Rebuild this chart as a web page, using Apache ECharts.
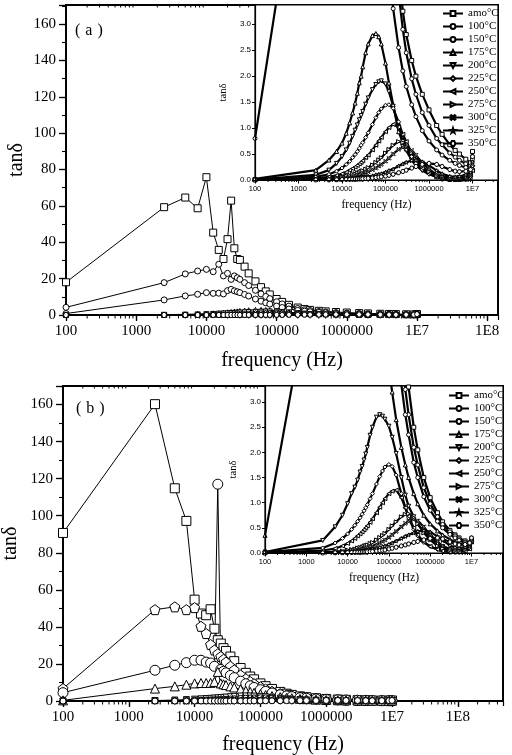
<!DOCTYPE html>
<html><head><meta charset="utf-8">
<script src="https://cdn.jsdelivr.net/npm/echarts@6/dist/echarts.min.js"></script>
<style>html,body{margin:0;padding:0;background:#fff}#c{width:512px;height:755px}</style>
</head><body><div id="c"></div>
<script>
const seriesNames = ['amo°C','100°C','150°C','175°C','200°C','225°C','250°C','275°C','300°C','325°C','350°C'];
const freq = [100,2500,5000,7500,10000,12500,15000,17500,20000,22500,25000,27500,30000,35000,40000,50000,60000,70000,80000,100000,120000,150000,200000,250000,300000,400000,500000,700000,1000000,1500000,2000000,3000000,4000000,5000000,7000000,9000000,10000000];
const xTickLabels = ['100','1000','10000','100000','1000000','1E7','1E8'];
const minorMultipliers = [2,3,4,5,6,7,8,9];

// panel (a)
const amoA = [18,59.3,64.6,58.7,75.8,45.3,35.8,30.8,41.7,62.9,36.7,30.8,30.3,26.6,22.9,18.5,15.3,13.0,11.3,8.8,7.2,5.6,4.1,3.25,2.8,2.3,2.0,1.65,1.35,1.05,0.88,0.68,0.57,0.5,0.4,0.33,0.55];
const t100A = [4.2,17.8,22.6,24.2,25.1,23.8,27.9,21.5,22.9,19.6,21.5,20.5,19.6,17.8,16.2,13.6,11.6,10.2,9.0,7.3,6.1,4.9,3.6,2.9,2.45,1.95,1.65,1.3,1.05,0.8,0.68,0.52,0.44,0.38,0.31,0.27,0.45];
const t150A = [0.8,8.3,10.5,11.4,12.3,11.9,12.0,11.6,13.4,14.1,13.3,12.8,12.3,11.3,10.4,8.8,7.6,6.7,6.0,4.9,4.1,3.3,2.55,2.1,1.8,1.45,1.22,0.95,0.75,0.58,0.48,0.38,0.32,0.28,0.24,0.22,0.4];
const t175A = [0.02,0.19,0.385,0.55,0.71,0.9,1.1,1.29,1.48,1.67,1.87,2.0,2.18,2.45,2.62,2.78,2.82,2.76,2.62,2.25,1.87,1.45,0.93,0.72,0.6,0.46,0.37,0.25,0.15,0.06,0.03,0.01,0.01,0.01,0.02,0.05,0.3];
const t200A = [0.01,0.1,0.19,0.32,0.45,0.58,0.71,0.84,0.96,1.06,1.16,1.24,1.32,1.46,1.58,1.74,1.84,1.89,1.91,1.85,1.7,1.42,1.0,0.74,0.57,0.38,0.28,0.18,0.11,0.06,0.03,0.01,0.01,0.02,0.03,0.06,0.25];
const t225A = [0.01,0.06,0.11,0.17,0.23,0.3,0.36,0.43,0.49,0.55,0.61,0.67,0.72,0.82,0.91,1.07,1.2,1.3,1.37,1.44,1.45,1.38,1.12,0.87,0.68,0.45,0.32,0.2,0.12,0.06,0.04,0.02,0.02,0.02,0.04,0.07,0.2];
const t250A = [0,0.03,0.06,0.09,0.12,0.15,0.19,0.22,0.25,0.28,0.31,0.34,0.37,0.43,0.48,0.58,0.67,0.75,0.82,0.93,1.01,1.07,1.02,0.88,0.74,0.52,0.38,0.23,0.14,0.07,0.04,0.02,0.02,0.03,0.05,0.09,0.18];
const t275A = [0,0.02,0.03,0.05,0.06,0.08,0.09,0.11,0.12,0.14,0.15,0.17,0.18,0.21,0.24,0.29,0.34,0.39,0.43,0.52,0.59,0.67,0.74,0.72,0.66,0.52,0.4,0.26,0.16,0.08,0.05,0.03,0.03,0.04,0.06,0.1,0.22];
const t300A = [0,0.01,0.02,0.03,0.04,0.05,0.06,0.07,0.08,0.09,0.1,0.11,0.12,0.14,0.16,0.2,0.23,0.27,0.3,0.36,0.42,0.5,0.59,0.63,0.64,0.57,0.48,0.33,0.21,0.11,0.07,0.04,0.04,0.05,0.08,0.12,0.3];
const t325A = [0,0.005,0.01,0.015,0.02,0.025,0.03,0.035,0.04,0.045,0.05,0.055,0.06,0.065,0.07,0.08,0.1,0.11,0.12,0.15,0.18,0.21,0.27,0.31,0.34,0.375,0.385,0.35,0.28,0.18,0.12,0.07,0.06,0.07,0.1,0.15,0.35];
const t350A = [0,0.002,0.004,0.006,0.008,0.01,0.012,0.014,0.016,0.018,0.02,0.022,0.024,0.028,0.032,0.04,0.048,0.055,0.062,0.075,0.09,0.11,0.14,0.165,0.19,0.23,0.26,0.3,0.32,0.3,0.26,0.2,0.17,0.16,0.17,0.2,0.45];

// panel (b)
const amoB = [90.7,160.2,114.8,97.2,54.7,47.2,46.3,49.5,39,32.8,31,28.5,27,24,21.5,17.8,15.2,13.2,11.7,9.5,8.0,6.5,4.9,3.95,3.3,2.5,2.05,1.5,1.1,0.8,0.62,0.45,0.36,0.3,0.24,0.2,0.28];
const t100B = [6.7,49.3,50.8,49.3,50.4,40.3,36.4,30.5,27.5,25.5,24,22.5,21,18.7,16.8,14,12,10.5,9.3,7.6,6.4,5.2,4.0,3.25,2.75,2.1,1.75,1.3,0.98,0.72,0.57,0.42,0.34,0.28,0.22,0.19,0.25];
const t150B = [4.5,16.6,19.3,20.7,22,22,21,20.5,18.7,117,17,16,15.2,13.8,12.6,10.7,9.3,8.2,7.3,6.1,5.2,4.3,3.35,2.75,2.35,1.8,1.5,1.12,0.85,0.63,0.5,0.37,0.3,0.25,0.2,0.17,0.22];
const t175B = [0.35,6.7,7.9,8.8,9.5,9.7,9.7,9.8,10.3,15.7,9.5,9.0,8.6,7.9,7.3,6.3,5.5,4.9,4.4,3.7,3.2,2.65,2.1,1.75,1.5,1.18,0.98,0.75,0.58,0.44,0.36,0.27,0.22,0.19,0.16,0.14,0.3];
const t200B = [0.02,0.25,0.52,0.75,0.98,1.18,1.31,1.45,1.61,1.72,1.85,1.97,2.1,2.34,2.5,2.7,2.75,2.72,2.66,2.52,2.3,1.98,1.5,1.15,0.93,0.72,0.58,0.43,0.32,0.18,0.12,0.06,0.04,0.03,0.05,0.1,0.25];
const t225B = [0.02,0.1,0.2,0.29,0.38,0.47,0.55,0.63,0.7,0.77,0.84,0.9,0.96,1.08,1.18,1.37,1.52,1.63,1.71,1.76,1.72,1.55,1.18,0.9,0.7,0.47,0.34,0.21,0.13,0.07,0.04,0.02,0.02,0.02,0.04,0.08,0.22];
const t250B = [0.01,0.05,0.09,0.14,0.19,0.24,0.29,0.34,0.38,0.42,0.46,0.5,0.54,0.61,0.68,0.8,0.91,1.0,1.08,1.18,1.23,1.25,1.1,0.9,0.73,0.5,0.36,0.22,0.13,0.07,0.04,0.02,0.02,0.02,0.04,0.08,0.22];
const t275B = [0,0.02,0.03,0.04,0.06,0.07,0.08,0.1,0.11,0.12,0.14,0.15,0.16,0.19,0.21,0.26,0.31,0.35,0.39,0.47,0.54,0.62,0.72,0.77,0.78,0.7,0.58,0.4,0.26,0.14,0.09,0.05,0.04,0.04,0.06,0.1,0.2];
const t300B = [0,0.01,0.02,0.03,0.04,0.05,0.06,0.06,0.07,0.08,0.09,0.1,0.11,0.12,0.14,0.17,0.2,0.23,0.26,0.31,0.36,0.43,0.52,0.59,0.63,0.67,0.64,0.52,0.37,0.22,0.14,0.08,0.06,0.06,0.08,0.12,0.25];
const t325B = [0,0.005,0.01,0.015,0.02,0.025,0.03,0.035,0.04,0.045,0.05,0.055,0.06,0.07,0.08,0.095,0.11,0.125,0.14,0.17,0.2,0.24,0.29,0.33,0.36,0.4,0.43,0.45,0.42,0.33,0.25,0.15,0.11,0.1,0.12,0.17,0.3];
const t350B = [0,0.002,0.004,0.006,0.008,0.01,0.012,0.014,0.016,0.018,0.02,0.022,0.024,0.028,0.032,0.04,0.047,0.054,0.06,0.08,0.095,0.115,0.14,0.16,0.18,0.21,0.23,0.26,0.29,0.3,0.28,0.22,0.18,0.16,0.17,0.2,0.3];

const panelAValues = [amoA,t100A,t150A,t175A,t200A,t225A,t250A,t275A,t300A,t325A,t350A];
const panelBValues = [amoB,t100B,t150B,t175B,t200B,t225B,t250B,t275B,t300B,t325B,t350B];

const DOWN = 'path://M0,0L10,0L5,9Z';
const LEFT = 'path://M10,0L10,10L1,5Z';
const RIGHT = 'path://M0,0L0,10L9,5Z';
const XS = 'path://M0,1.5L1.5,0L5,3.5L8.5,0L10,1.5L6.5,5L10,8.5L8.5,10L5,6.5L1.5,10L0,8.5L3.5,5Z';
const STAR = 'path://M5,0L6.2,3.6L10,3.6L7,5.9L8.1,9.5L5,7.3L1.9,9.5L3,5.9L0,3.6L3.8,3.6Z';
const HEX = 'path://M2.5,0L7.5,0L10,5L7.5,10L2.5,10L0,5Z';
const PENT = 'path://M5,0L10,3.8L8.1,10L1.9,10L0,3.8Z';
const symbolsA = ['rect','circle','circle','triangle',DOWN,'diamond',LEFT,RIGHT,XS,STAR,HEX];
const symbolsB = ['rect',PENT,'circle','triangle',DOWN,'circle',LEFT,RIGHT,'circle',STAR,'circle'];
const mainSizeA = [7,6,6,5,5,5,5,5,5,5,5];
const mainSizeB = [9,10,10,9,6,6,6,6,6,6,6];

const SERIF = "'Liberation Serif','Times New Roman',serif";
const SANS = "'Liberation Sans',Arial,sans-serif";

function isInt(v){return Math.abs(v-Math.round(v))<1e-6;}
function xLabel(v){return isInt(v) ? (xTickLabels[Math.round(v)-2]||'') : '';}

function minorTickPositions(max){
  const out=[];
  for(let d=2; d<=8; d++){ for(const m of minorMultipliers){ const v=Math.log10(m*Math.pow(10,d)); if(v<max-0.005) out.push([v,0]); } }
  return out;
}
function tickRender(len, top){
  return function(params, api){
    const cs = params.coordSys;
    const x = api.coord([api.value(0), 0])[0];
    const yb = cs.y + cs.height;
    const ch = [{type:'line', shape:{x1:x,y1:yb,x2:x,y2:yb+len}, style:{stroke:'#000', lineWidth:1}}];
    if(top) ch.push({type:'line', shape:{x1:x,y1:cs.y,x2:x,y2:cs.y+len-1}, style:{stroke:'#000', lineWidth:1}});
    return {type:'group', children: ch};
  };
}

const P = {
  A: {gm:0, gi:1, xm:0, xi:2, ym:0, yi:2, xmaxM:8.154, xmaxI:7.586, ymaxM:170.5, ymaxI:3.37, vals:panelAValues, sym:symbolsA, size:mainSizeA},
  B: {gm:2, gi:3, xm:3, xi:5, ym:3, yi:5, xmaxM:8.687, xmaxI:7.763, ymaxM:170, ymaxI:3.32, vals:panelBValues, sym:symbolsB, size:mainSizeB}
};

const grids = [
  {left:66, top:5, width:432, height:310, show:true, borderColor:'#000', borderWidth:2, backgroundColor:'transparent', z:0, containLabel:false, outerBoundsMode:'none'},
  {left:255, top:5, width:243, height:175, show:true, borderColor:'#000', borderWidth:1.2, backgroundColor:'#fff', z:3, containLabel:false, outerBoundsMode:'none'},
  {left:63, top:386, width:440, height:315, show:true, borderColor:'#000', borderWidth:2, backgroundColor:'transparent', z:0, containLabel:false, outerBoundsMode:'none'},
  {left:265, top:386, width:238, height:167, show:true, borderColor:'#000', borderWidth:1.2, backgroundColor:'#fff', z:3, containLabel:false, outerBoundsMode:'none'}
];

function mainX(g, max, gap){
  return {type:'value', gridIndex:g, min:2, max:max, interval:1, position:'bottom',
    axisLine:{show:true, lineStyle:{color:'#000', width:2}},
    axisTick:{show:true, inside:false, length:6, lineStyle:{color:'#000', width:1.3}},
    axisLabel:{formatter:xLabel, fontFamily:SERIF, fontSize:15, color:'#000', margin:9, showMaxLabel:false},
    splitLine:{show:false},
    name:'frequency (Hz)', nameLocation:'middle', nameGap:gap, nameTextStyle:{fontFamily:SERIF, fontSize:20, color:'#000'}};
}
function topX(g, max){
  return {type:'value', gridIndex:g, min:2, max:max, interval:1, position:'top',
    axisLine:{show:false}, axisTick:{show:true, inside:true, length:5, lineStyle:{color:'#000', width:1.2}},
    axisLabel:{show:false}, splitLine:{show:false}};
}
function insetX(g, max){
  return {type:'value', gridIndex:g, min:2, max:max, interval:1, position:'bottom', z:5,
    axisLine:{show:true, lineStyle:{color:'#000', width:1.2}},
    axisTick:{show:true, inside:false, length:3.5, lineStyle:{color:'#000', width:1}},
    axisLabel:{formatter:xLabel, fontFamily:SANS, fontSize:7.5, color:'#000', margin:5, showMaxLabel:false},
    splitLine:{show:false},
    name:'frequency (Hz)', nameLocation:'middle', nameGap:19, nameTextStyle:{fontFamily:SERIF, fontSize:11.5, color:'#000'}};
}
function mainY(g, max, gap){
  return {type:'value', gridIndex:g, min:0, max:max, interval:20,
    axisLine:{show:true, lineStyle:{color:'#000', width:2}},
    axisTick:{show:true, inside:false, length:7, lineStyle:{color:'#000', width:1.3}},
    axisLabel:{formatter:v=>isInt(v/20)?String(Math.round(v)):'', fontFamily:SERIF, fontSize:15, color:'#000', margin:10},
    splitLine:{show:false}, nameMoveOverlap:false,
    name:'tanδ', nameLocation:'middle', nameGap:gap, nameTextStyle:{fontFamily:SERIF, fontSize:20, color:'#000'}};
}
function minorY(g, max){
  return {type:'value', gridIndex:g, min:0, max:max, interval:10, position:'left',
    axisLine:{show:false}, axisTick:{show:true, inside:false, length:4, lineStyle:{color:'#000', width:1.1}},
    axisLabel:{show:false}, splitLine:{show:false}};
}
function insetY(g, max){
  return {type:'value', gridIndex:g, min:0, max:max, interval:0.5, z:5,
    axisLine:{show:true, lineStyle:{color:'#000', width:1.2}},
    axisTick:{show:true, inside:false, length:3, lineStyle:{color:'#000', width:1}},
    axisLabel:{formatter:v=>isInt(v*2)?v.toFixed(1):'', fontFamily:SANS, fontSize:8, color:'#000', margin:4},
    splitLine:{show:false},
    name:'tanδ', nameLocation:'middle', nameGap:26, nameTextStyle:{fontFamily:SERIF, fontSize:10.5, color:'#000'}};
}

const xAxes = [mainX(0,P.A.xmaxM,36), topX(0,P.A.xmaxM), insetX(1,P.A.xmaxI), mainX(2,P.B.xmaxM,34), topX(2,P.B.xmaxM), insetX(3,P.B.xmaxI)];
const yAxes = [mainY(0,P.A.ymaxM,39), minorY(0,P.A.ymaxM), insetY(1,P.A.ymaxI), mainY(2,P.B.ymaxM,42), minorY(2,P.B.ymaxM), insetY(3,P.B.ymaxI)];

const series = [];
function pairs(arr){return freq.map((f,j)=>[Math.log10(f), arr[j]]);}
for(const key of ['A','B']){
  const p = P[key];
  p.vals.forEach((arr,i)=>{
    series.push({type:'line', name:seriesNames[i], xAxisIndex:p.xi, yAxisIndex:p.yi, data:pairs(arr), z:4,
      symbol:symbolsA[i], symbolSize:4, showAllSymbol:true,
      lineStyle:{color:'#000', width:2.2}, itemStyle:{color:'#fff', borderColor:'#000', borderWidth:1},
      emphasis:{disabled:true}, silent:true});
  });
  p.vals.forEach((arr,i)=>{
    series.push({type:'line', name:seriesNames[i]+' ', xAxisIndex:p.xm, yAxisIndex:p.ym, data:pairs(arr), z:2,
      symbol:p.sym[i], symbolSize:p.size[i], showAllSymbol:true,
      lineStyle:{color:'#000', width:1}, itemStyle:{color:'#fff', borderColor:'#000', borderWidth:1},
      emphasis:{disabled:true}, silent:true});
  });
  series.push({type:'custom', xAxisIndex:p.xm, yAxisIndex:p.ym, z:2, silent:true,
    data:minorTickPositions(p.xmaxM), renderItem:tickRender(3.5,true)});
  series.push({type:'custom', xAxisIndex:p.xi, yAxisIndex:p.yi, z:6, silent:true,
    data:minorTickPositions(p.xmaxI), renderItem:tickRender(2,false)});
}

function legendAt(left, top){
  return {data:seriesNames, orient:'vertical', left:left, top:top, padding:0, itemWidth:20, itemHeight:6, itemGap:0,
    selectedMode:false, z:10, textStyle:{fontFamily:SERIF, fontSize:11, color:'#000', lineHeight:13}};
}

function panelLabel(letter){
  return {text:'{p|(}{l|'+letter+'}{p|)}', rich:{p:{fontFamily:SERIF, fontSize:16, fill:'#000'}, l:{fontFamily:SERIF, fontSize:16, fill:'#000', padding:[0,5,0,5]}}};
}

const chart = echarts.init(document.getElementById('c'), null, {renderer:'canvas'});
chart.setOption({
  animation:false,
  backgroundColor:'#fff',
  grid:grids, xAxis:xAxes, yAxis:yAxes, series:series,
  legend:[legendAt(442,7), legendAt(448,389)],
  graphic:[
    {type:'text', left:75, top:23, style:panelLabel('a')},
    {type:'text', left:76, top:401, style:panelLabel('b')}
  ]
});
</script></body></html>
